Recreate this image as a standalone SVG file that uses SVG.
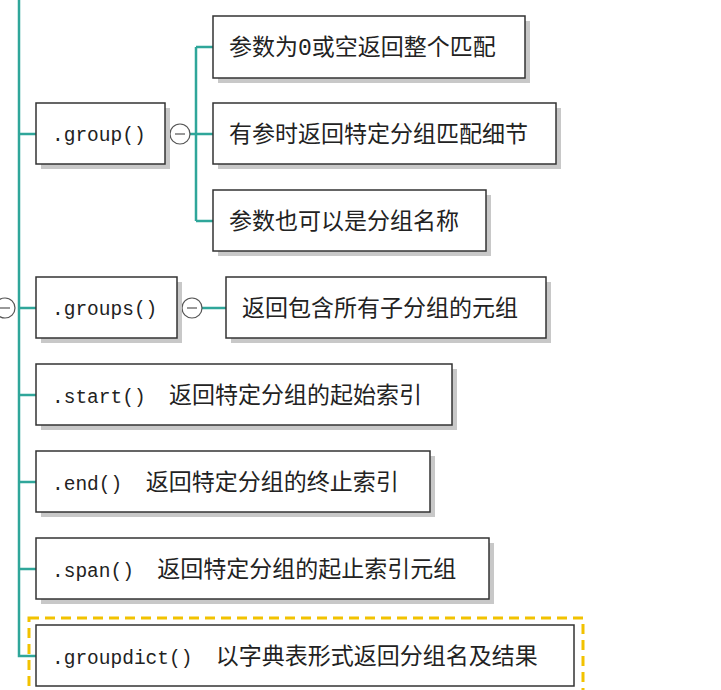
<svg xmlns="http://www.w3.org/2000/svg" width="721" height="690" viewBox="0 0 721 690">
<defs>
<style>
.box{fill:#fff;stroke:#333;stroke-width:1.5}
.sh{fill:#c8c8c8}
.t{font-family:"Liberation Mono","Noto Sans CJK SC",monospace;font-size:23px;fill:#222}
.m{font-size:19.5px}
.c{fill:none;stroke:#2fa69a;stroke-width:2.5}
.tog{fill:#fff;stroke:#555;stroke-width:1.2}
.tl{stroke:#555;stroke-width:1.2}
</style>
</defs>
<rect width="721" height="690" fill="#fff"/>
<g id="connectors">
<path class="c" d="M19 0 V656 H36 M19 134 H36 M19 308 H36 M19 395 H36 M19 482 H36 M19 569 H36"/>
<path class="c" d="M188 134 H213 M196 47 V221 M196 47 H213 M196 221 H213 M200 308 H226"/>
</g>
<g id="toggles">
<circle class="tog" cx="180" cy="134" r="10"/><line class="tl" x1="175" y1="134" x2="185" y2="134"/>
<circle class="tog" cx="192" cy="308" r="10"/><line class="tl" x1="187" y1="308" x2="197" y2="308"/>
<circle class="tog" cx="5" cy="308" r="10"/><line class="tl" x1="0" y1="308" x2="10" y2="308"/>
</g>
<g id="n1"><rect class="sh" x="218" y="21" width="312" height="62"/><rect class="box" x="213" y="16" width="312" height="62"/><text class="t" x="229" y="55">参数为0或空返回整个匹配</text></g>
<g id="n_group"><rect class="sh" x="41" y="108" width="129" height="61"/><rect class="box" x="36" y="103" width="129" height="61"/><text class="t m" x="52" y="141">.group()</text></g>
<g id="n2"><rect class="sh" x="218" y="108" width="343" height="61"/><rect class="box" x="213" y="103" width="343" height="61"/><text class="t" x="229" y="142">有参时返回特定分组匹配细节</text></g>
<g id="n3"><rect class="sh" x="218" y="195" width="273" height="61"/><rect class="box" x="213" y="190" width="273" height="61"/><text class="t" x="229" y="229">参数也可以是分组名称</text></g>
<g id="n_groups"><rect class="sh" x="41" y="282" width="141" height="61"/><rect class="box" x="36" y="277" width="141" height="61"/><text class="t m" x="52" y="315">.groups()</text></g>
<g id="n4"><rect class="sh" x="231" y="282" width="320" height="61"/><rect class="box" x="226" y="277" width="320" height="61"/><text class="t" x="242" y="316">返回包含所有子分组的元组</text></g>
<g id="n_start"><rect class="sh" x="41" y="369" width="416" height="61"/><rect class="box" x="36" y="364" width="416" height="61"/><text class="t" x="52" y="403" xml:space="preserve"><tspan class="m">.start()  </tspan>返回特定分组的起始索引</text></g>
<g id="n_end"><rect class="sh" x="41" y="456" width="394" height="61"/><rect class="box" x="36" y="451" width="394" height="61"/><text class="t" x="52" y="490" xml:space="preserve"><tspan class="m">.end()  </tspan>返回特定分组的终止索引</text></g>
<g id="n_span"><rect class="sh" x="41" y="543" width="453" height="61"/><rect class="box" x="36" y="538" width="453" height="61"/><text class="t" x="52" y="577" xml:space="preserve"><tspan class="m">.span()  </tspan>返回特定分组的起止索引元组</text></g>
<g id="n_groupdict"><rect x="29" y="618" width="554" height="80" fill="none" stroke="#f2c200" stroke-width="3" stroke-dasharray="10 6"/><rect class="box" x="36" y="625" width="538" height="61"/><text class="t" x="52" y="664" xml:space="preserve"><tspan class="m">.groupdict()  </tspan>以字典表形式返回分组名及结果</text></g>
</svg>
